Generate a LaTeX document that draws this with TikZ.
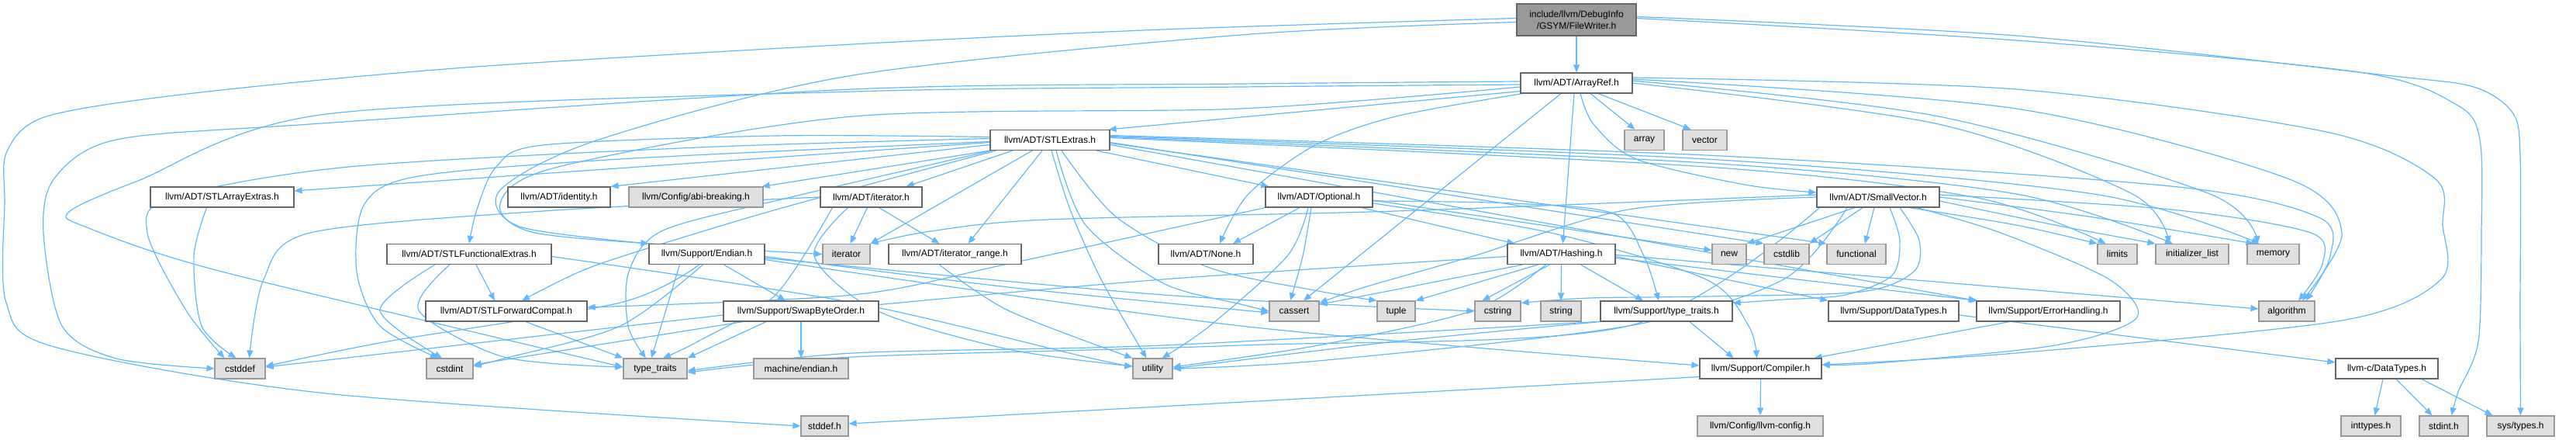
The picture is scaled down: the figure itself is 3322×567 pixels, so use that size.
\documentclass[tikz,border=0pt]{standalone}
\usepackage{fontspec}
\setmainfont{Liberation Sans}
\usetikzlibrary{arrows.meta}
\definecolor{edgec}{HTML}{63B8FF}
\definecolor{bordc}{HTML}{666666}
\definecolor{extc}{HTML}{E0E0E0}
\definecolor{extb}{HTML}{999999}
\definecolor{mainc}{HTML}{999999}
\pgfdeclarelayer{edgelayer}
\pgfsetlayers{edgelayer,main}
\tikzset{
  box/.style={draw=bordc, line width=1.2pt, fill=white, inner sep=0pt, minimum height=26pt, font=\fontsize{12}{14.5}\selectfont, text=black},
  ext/.style={box, fill=extc, draw=extb},
  e/.style={draw=edgec, line width=1.2pt, -{Triangle[length=10pt,width=8pt]}},
}
\begin{document}
\begin{tikzpicture}[x=1pt,y=1pt]
\useasboundingbox (0,0) rectangle (3322,-567);
% row 0
\node[box, fill=mainc, minimum width=154pt, minimum height=41pt, align=center] (FW) at (2033,-25.5) {include/llvm/DebugInfo\\/GSYM/FileWriter.h};
% row 1
\node[box, minimum width=144pt] (AR) at (2033,-107) {llvm/ADT/ArrayRef.h};
% row 2
\node[box, minimum width=154pt] (SE) at (1354,-180.5) {llvm/ADT/STLExtras.h};
\node[ext, minimum width=51pt] (ARR) at (2120.5,-180.5) {array};
\node[ext, minimum width=57pt] (VEC) at (2198.5,-180.5) {vector};
% row 3
\node[box, minimum width=185pt] (SAE) at (286.5,-254) {llvm/ADT/STLArrayExtras.h};
\node[box, minimum width=132pt] (IDN) at (721,-254) {llvm/ADT/identity.h};
\node[ext, minimum width=173pt] (ABI) at (897.5,-254) {llvm/Config/abi-breaking.h};
\node[box, minimum width=131pt] (ITH) at (1123.5,-254) {llvm/ADT/iterator.h};
\node[box, minimum width=138pt] (OPT) at (1701,-254) {llvm/ADT/Optional.h};
\node[box, minimum width=158pt] (SV) at (2422,-254) {llvm/ADT/SmallVector.h};
% row 4
\node[box, minimum width=212pt] (SFE) at (605,-327.5) {llvm/ADT/STLFunctionalExtras.h};
\node[box, minimum width=149pt] (END) at (911.5,-327.5) {llvm/Support/Endian.h};
\node[ext, minimum width=61pt] (ITR) at (1091.5,-327.5) {iterator};
\node[box, minimum width=171pt] (IRG) at (1231.5,-327.5) {llvm/ADT/iterator\_range.h};
\node[box, minimum width=122pt] (NON) at (1555,-327.5) {llvm/ADT/None.h};
\node[box, minimum width=139pt] (HSH) at (2013.5,-327.5) {llvm/ADT/Hashing.h};
\node[ext, minimum width=44pt] (NEW) at (2230,-327.5) {new};
\node[ext, minimum width=58pt] (CSL) at (2304,-327.5) {cstdlib};
\node[ext, minimum width=76pt] (FUN) at (2394,-327.5) {functional};
\node[ext, minimum width=51pt] (LIM) at (2730.5,-327.5) {limits};
\node[ext, minimum width=94pt] (IL) at (2827,-327.5) {initializer\_list};
\node[ext, minimum width=67pt] (MEM) at (2931.5,-327.5) {memory};
% row 5
\node[box, minimum width=208pt] (SFC) at (653,-401) {llvm/ADT/STLForwardCompat.h};
\node[box, minimum width=200pt] (SBO) at (1033,-401) {llvm/Support/SwapByteOrder.h};
\node[ext, minimum width=64pt] (CAS) at (1669,-401) {cassert};
\node[ext, minimum width=49pt] (TUP) at (1800.5,-401) {tuple};
\node[ext, minimum width=59pt] (CSG) at (1931.5,-401) {cstring};
\node[ext, minimum width=52pt] (STR) at (2013,-401) {string};
\node[box, minimum width=170pt] (TTH) at (2149,-401) {llvm/Support/type\_traits.h};
\node[box, minimum width=168pt] (DT) at (2442,-401) {llvm/Support/DataTypes.h};
\node[box, minimum width=185pt] (EH) at (2641.5,-401) {llvm/Support/ErrorHandling.h};
\node[ext, minimum width=72pt] (ALG) at (2949,-401) {algorithm};
% row 6
\node[ext, minimum width=65pt] (CDF) at (309.5,-475) {cstddef};
\node[ext, minimum width=60pt] (CIN) at (580,-475) {cstdint};
\node[ext, minimum width=82pt] (TT) at (845,-475) {type\_traits};
\node[ext, minimum width=122pt] (MEN) at (1033,-475) {machine/endian.h};
\node[ext, minimum width=51pt] (UTL) at (1486.5,-475) {utility};
\node[box, minimum width=157pt] (CMP) at (2270.5,-475) {llvm/Support/Compiler.h};
\node[box, minimum width=132pt] (CDT) at (3078,-475) {llvm-c/DataTypes.h};
% row 7
\node[ext, minimum width=61pt] (SDH) at (1063.5,-549) {stddef.h};
\node[ext, minimum width=162pt] (CFG) at (2270,-549) {llvm/Config/llvm-config.h};
\node[ext, minimum width=77pt] (INT) at (3057.5,-549) {inttypes.h};
\node[ext, minimum width=63pt] (SIN) at (3151.5,-549) {stdint.h};
\node[ext, minimum width=87pt] (STY) at (3250.5,-549) {sys/types.h};

\begin{pgfonlayer}{edgelayer}
% ---------- FileWriter
\draw[e] (FW.south) -- (AR.north);
\draw[e] plot[smooth] coordinates {([yshift=-3pt]FW.west) (1600,-45) (1100,-97) (772,-180) (645,-245) (670,-292) (END.north west)};
\draw[e] plot[smooth] coordinates {([yshift=2pt]FW.west) (1500,-38) (1100,-57) (600,-87) (250,-120) (60,-150) (9,-195) (6,-260) (8,-390) (70,-447) (421,-507) (SDH.west)};
\draw[e] plot[smooth] coordinates {([yshift=2pt]FW.east) (2600,-52) (3042,-93) (3168,-135) (3198,-180) (3200,-300) (3196,-440) (3170,-505) ([xshift=10pt]SIN.north)};
\draw[e] plot[smooth] coordinates {([yshift=4pt]FW.east) (2600,-46) (3077,-97) (3190,-112) (3240,-145) (3250,-200) (3250,-400) (STY.north)};

% ---------- ArrayRef
\draw[e] ([yshift=3pt]AR.south west) -- ([xshift=-2pt]SE.north east);
\draw[e] ([xshift=18pt]AR.south) -- ([xshift=-12pt]ARR.north);
\draw[e] ([xshift=28pt]AR.south) -- ([xshift=-18pt]VEC.north);
\draw[e] plot[smooth] coordinates {([xshift=5pt]AR.south) (2055,-160) (2110,-205) (2250,-238) ([yshift=6pt]SV.west)};
\draw[e] ([xshift=-3pt]AR.south) -- ([xshift=2pt]HSH.north);
\draw[e] plot[smooth] coordinates {([xshift=3pt]AR.south west) (1800,-150) (1696,-187) (1610,-250) ([xshift=18pt]NON.north)};
\draw[e] ([xshift=-20pt]AR.south) -- ([xshift=12pt]CAS.north);
\draw[e] plot[smooth] coordinates {([yshift=2pt]AR.west) (1600,-108) (1100,-115) (400,-160) (150,-180) (70,-230) (56,-300) (80,-420) (150,-462) (CDF.west)};
\draw[e] plot[smooth] coordinates {([yshift=-2pt]AR.west) (1600,-112) (1100,-118) (421,-147) (178,-233) (89,-273) (112,-293) (286,-350) ([yshift=2pt]TT.west)};
\draw[e] plot[smooth] coordinates {([yshift=-5pt]AR.west) (1600,-140) (1100,-150) (720,-215) (645,-262) (690,-300) (900,-318) (ITR.west)};
\draw[e] plot[smooth] coordinates {([yshift=0pt]AR.east) (2500,-160) (2750,-250) ([xshift=-30pt]IL.north)};
\draw[e] plot[smooth] coordinates {([yshift=3pt]AR.east) (2500,-150) (2850,-250) ([xshift=-20pt]MEM.north)};
\draw[e] plot[smooth] coordinates {([yshift=5pt]AR.east) (2600,-140) (2950,-230) (3020,-300) ([xshift=20pt]ALG.north)};
\draw[e] plot[smooth] coordinates {([yshift=7pt]AR.east) (2600,-115) (3000,-170) (3140,-230) (3150,-290) (3148,-360) (3020,-413) (2600,-455) ([yshift=5pt]CMP.east)};

% ---------- STLExtras
\draw[e] ([yshift=-3pt]SE.west) -- ([yshift=8pt]SAE.east);
\draw[e] ([yshift=-6pt]SE.west) -- (IDN.north east);
\draw[e] (SE.south west) -- ([xshift=-2pt]ABI.north east);
\draw[e] ([xshift=-48pt]SE.south) -- ([xshift=45pt]ITH.north);
\draw[e] ([xshift=60pt]SE.south) -- ([xshift=5pt]OPT.north west);
\draw[e] ([xshift=-23pt]SE.south) -- (ITR.north east);
\draw[e] ([xshift=-10pt]SE.south) -- ([xshift=17pt]IRG.north);
\draw[e] plot[smooth] coordinates {([xshift=2pt]SE.south) (1380,-270) (1420,-360) ([xshift=-8pt]UTL.north)};
\draw[e] plot[smooth] coordinates {([xshift=8pt]SE.south) (1400,-290) (1500,-365) (1600,-392) (CAS.west)};
\draw[e] plot[smooth] coordinates {([xshift=15pt]SE.south) (1440,-280) (1560,-345) (1700,-375) (TUP.north west)};
\draw[e] plot[smooth] coordinates {([yshift=4pt]SE.west) (1000,-175) (700,-187) (640,-215) (615,-270) (SFE.north)};
\draw[e] plot[smooth] coordinates {([xshift=3pt]SE.south west) (1016,-255) (855,-297) (811,-350) (810,-420) ([xshift=-12pt]TT.north)};
\draw[e] plot[smooth] coordinates {([xshift=8pt]SE.south west) (1030,-262) (900,-300) (760,-345) ([xshift=20pt]SFC.north)};
\draw[e] plot[smooth] coordinates {([yshift=2pt]SE.west) (900,-190) (450,-215) (220,-255) (190,-300) (240,-400) ([xshift=-20pt]CDF.north)};
\draw[e] plot[smooth] coordinates {([yshift=-2pt]SE.west) (800,-205) (540,-227) (470,-263) (460,-350) (490,-420) ([xshift=-15pt]CIN.north)};
\draw[e] ([yshift=-6pt]SE.east) -- (EH.north west);
\draw[e] ([yshift=-3pt]SE.east) -- (CSL.north west);
\draw[e] ([yshift=-4pt]SE.east) -- (FUN.north west);
\draw[e] plot[smooth] coordinates {([yshift=3pt]SE.east) (2200,-215) (2550,-255) ([xshift=-15pt]LIM.north)};
\draw[e] plot[smooth] coordinates {([yshift=4pt]SE.east) (2200,-210) (2600,-250) ([xshift=-25pt]IL.north)};
\draw[e] plot[smooth] coordinates {([yshift=5pt]SE.east) (2200,-205) (2700,-250) ([xshift=-18pt]MEM.north)};
\draw[e] plot[smooth] coordinates {([yshift=6pt]SE.east) (2200,-200) (2800,-240) (2990,-280) (3005,-330) ([xshift=25pt]ALG.north)};

% ---------- Optional
\draw[e] ([xshift=-25pt]OPT.south) -- ([xshift=35pt]NON.north);
\draw[e] ([xshift=55pt]OPT.south) -- ([xshift=-60pt]HSH.north);
\draw[e] plot[smooth] coordinates {([xshift=-10pt]OPT.south) (1680,-330) ([xshift=-5pt]CAS.north)};
\draw[e] plot[smooth] coordinates {([xshift=-14pt]OPT.south) (1660,-330) (1560,-420) ([xshift=12pt]UTL.north)};
\draw[e] ([yshift=-4pt]OPT.east) -- ([yshift=5pt]NEW.west);
\draw[e] plot[smooth] coordinates {([yshift=-5pt]OPT.east) (1950,-262) (2080,-275) (2120,-330) ([xshift=-10pt]TTH.north)};
\draw[e] plot[smooth] coordinates {([yshift=-8pt]OPT.east) (2000,-300) (2200,-360) (2255,-420) ([xshift=-5pt]CMP.north)};
\draw[e] plot[smooth] coordinates {(OPT.south west) (1300,-340) (1100,-380) ([yshift=5pt]SFC.east)};

% ---------- SmallVector
\draw[e] ([xshift=-30pt]SV.south) -- (NEW.north east);
\draw[e] ([xshift=-20pt]SV.south) -- (CSL.north east);
\draw[e] ([xshift=-5pt]SV.south) -- ([xshift=11pt]FUN.north);
\draw[e] plot[smooth] coordinates {([xshift=40pt]SV.south) (2600,-290) (LIM.north west)};
\draw[e] plot[smooth] coordinates {([yshift=-5pt]SV.east) (2650,-290) (IL.north west)};
\draw[e] plot[smooth] coordinates {(SV.east) (2700,-280) ([xshift=-25pt]MEM.north)};
\draw[e] plot[smooth] coordinates {([yshift=3pt]SV.east) (2800,-270) (2980,-300) (2995,-340) ([xshift=15pt]ALG.north)};
\draw[e] plot[smooth] coordinates {([xshift=50pt]SV.south) (2580,-300) (2720,-360) (2755,-410) (2650,-445) (2420,-468) ([yshift=5pt]CMP.east)};
\draw[e] plot[smooth] coordinates {([xshift=15pt]SV.south) (2450,-310) (2440,-355) (2380,-380) (2300,-386) ([yshift=-3pt]TTH.north east)};
\draw[e] plot[smooth] coordinates {([xshift=28pt]SV.south) (2475,-310) (2468,-350) (2400,-376) (2200,-382) (2050,-384) ([yshift=-3pt]CSG.north east)};
\draw[e] plot[smooth] coordinates {(SV.west) (2100,-270) (1900,-330) (1760,-370) ([yshift=-3pt]CAS.north east)};
\draw[e] plot[smooth] coordinates {([xshift=4pt]SV.south west) (2100,-420) (1600,-445) (1100,-460) ([yshift=-5pt]TT.east)};
\draw[e] plot[smooth] coordinates {([xshift=-40pt]SV.south) (2300,-360) (2100,-420) (1700,-465) (UTL.east)};
\draw[e] plot[smooth] coordinates {([yshift=3pt]SV.west) (1800,-272) (1350,-283) (1200,-298) (ITR.north east)};

% ---------- Hashing
\draw[e] (HSH.south) -- (STR.north);
\draw[e] ([xshift=-15pt]HSH.south) -- ([xshift=-20pt]CSG.north);
\draw[e] ([xshift=-30pt]HSH.south) -- (TUP.north east);
\draw[e] ([xshift=-50pt]HSH.south) -- ([yshift=-5pt]CAS.north east);
\draw[e] ([xshift=25pt]HSH.south) -- ([xshift=-30pt]TTH.north);
\draw[e] plot[smooth] coordinates {([xshift=-20pt]HSH.south) (1900,-400) (1700,-445) ([yshift=2pt]UTL.east)};
\draw[e] plot[smooth] coordinates {([yshift=-3pt]HSH.west) (1500,-360) (1140,-392) ([yshift=6pt]SBO.east)};
\draw[e] ([yshift=-3pt]HSH.east) -- (DT.north west);
\draw[e] ([yshift=-5pt]HSH.east) -- ([xshift=2pt]EH.north west);
\draw[e] ([yshift=-1pt]HSH.east) -- ([yshift=3pt]ALG.west);

% ---------- Endian
\draw[e] ([xshift=22pt]END.south) -- ([xshift=-20pt]SBO.north);
\draw[e] plot[smooth] coordinates {([xshift=-10pt]END.south) (800,-390) (500,-440) ([yshift=3pt]CDF.east)};
\draw[e] plot[smooth] coordinates {([xshift=-5pt]END.south) (800,-420) (650,-462) ([yshift=3pt]CIN.east)};
\draw[e] ([xshift=-35pt]END.south) -- ([xshift=-5pt]TT.north);
\draw[e] plot[smooth] coordinates {([yshift=-3pt]END.east) (1300,-370) ([yshift=-2pt]CAS.west)};
\draw[e] plot[smooth] coordinates {([yshift=-5pt]END.east) (1500,-380) (CSG.west)};
\draw[e] plot[smooth] coordinates {([yshift=-7pt]END.east) (1600,-420) ([yshift=4pt]CMP.west)};

% ---------- SwapByteOrder
\draw[e] ([yshift=-5pt]SBO.west) -- ([yshift=2pt]CDF.east);
\draw[e] ([xshift=-75pt]SBO.south) -- ([yshift=5pt]CIN.east);
\draw[e] ([xshift=-45pt]SBO.south) -- (TT.north east);
\draw[e] (SBO.south) -- (MEN.north);

% ---------- iterator.h
\draw[e] ([xshift=-5pt]ITH.south) -- ([xshift=5pt]ITR.north);
\draw[e] ([xshift=10pt]ITH.south) -- ([xshift=-20pt]IRG.north);
\draw[e] plot[smooth] coordinates {(ITH.west) (700,-272) (400,-300) (340,-360) ([xshift=12pt]CDF.north)};
\draw[e] plot[smooth] coordinates {([xshift=-50pt]ITH.south) (1000,-380) (900,-440) ([xshift=10pt]TT.north)};
\draw[e] plot[smooth] coordinates {([xshift=-30pt]ITH.south) (1050,-330) (1130,-400) (1300,-450) ([yshift=3pt]UTL.west)};

% ---------- iterator_range
\draw[e] plot[smooth] coordinates {([xshift=-20pt]IRG.south) (1300,-400) (UTL.north west)};

% ---------- STLFunctionalExtras
\draw[e] ([xshift=9pt]SFE.south) -- ([xshift=-15pt]SFC.north);
\draw[e] plot[smooth] coordinates {([xshift=-44pt]SFE.south) (490,-400) ([xshift=-10pt]CIN.north)};
\draw[e] plot[smooth] coordinates {([xshift=-25pt]SFE.south) (540,-400) (650,-460) ([yshift=2pt]TT.west)};
\draw[e] plot[smooth] coordinates {([yshift=-3pt]SFE.east) (1100,-390) (1400,-460) ([yshift=3pt]UTL.west)};

% ---------- others
\draw[e] ([xshift=25pt]SFC.south) -- (TT.north west);
\draw[e] plot[smooth] coordinates {([xshift=-20pt]SAE.south) (250,-330) (260,-420) ([xshift=-5pt]CDF.north)};
\draw[e] ([xshift=30pt]TTH.south) -- ([xshift=-35pt]CMP.north);
\draw[e] plot[smooth] coordinates {(TTH.south west) (1800,-440) (UTL.east)};
\draw[e] plot[smooth] coordinates {([xshift=-5pt]TTH.south west) (1500,-445) (1100,-455) ([yshift=-3pt]TT.east)};
\draw[e] ([yshift=-5pt]DT.east) -- ([yshift=8pt]CDT.west);
\draw[e] ([xshift=-50pt]EH.south) -- ([xshift=-10pt]CMP.north east);
\draw[e] (CMP.south) -- (CFG.north);
\draw[e] ([yshift=3pt]CMP.south west) -- ([yshift=3pt]SDH.east);
\draw[e] ([xshift=-5pt]CDT.south) -- ([xshift=5pt]INT.north);
\draw[e] ([xshift=12pt]CDT.south) -- ([xshift=-15pt]SIN.north);
\draw[e] ([xshift=45pt]CDT.south) -- ([xshift=-36pt]STY.north);
\end{pgfonlayer}
\end{tikzpicture}
\end{document}
